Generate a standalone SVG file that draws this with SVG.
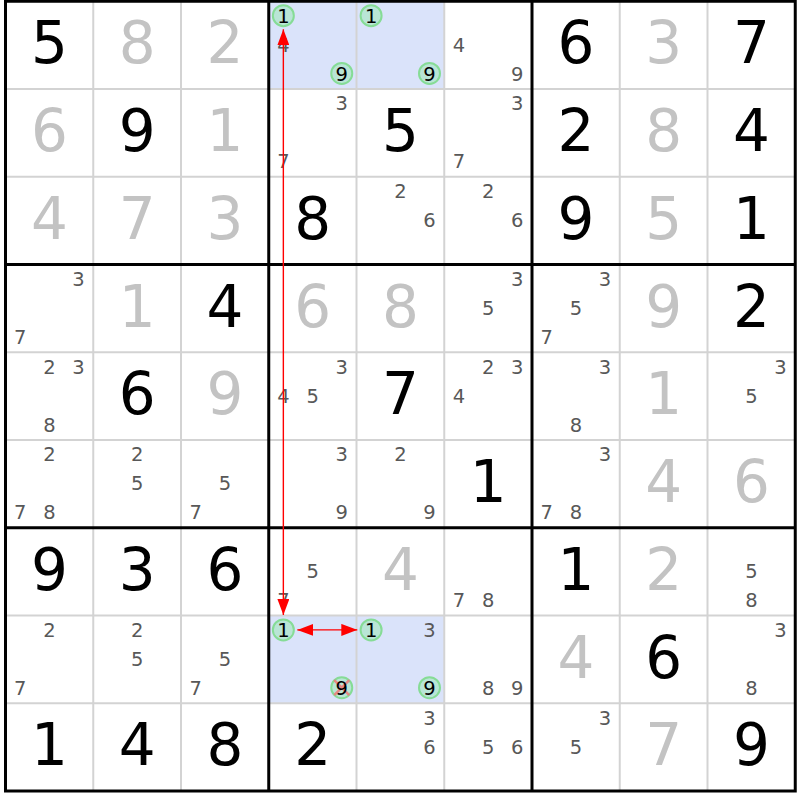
<svg xmlns="http://www.w3.org/2000/svg" width="800" height="800" viewBox="0 0 800 800">
<style>
text{font-family:"DejaVu Sans","Liberation Sans",sans-serif;text-anchor:middle}
.g{font-size:58px;fill:#000}
.s{font-size:58px;fill:#c3c3c3}
.c{font-size:19.5px;fill:#585858}
.cc{font-size:19.5px;fill:#000}
.hl{fill:#dae3fa}
.ring{fill:#b9e5d6;stroke:#86dc96;stroke-width:2}
.thin{stroke:#d3d3d3;stroke-width:2;fill:none}
.thick{stroke:#000;stroke-width:3;fill:none}
.arrow{stroke:#f00;stroke-width:1.4;fill:none}
.x{stroke:#f07878;stroke-width:2.5;opacity:0.85}
</style>
<defs>
<marker id="ah" markerUnits="userSpaceOnUse" markerWidth="16" markerHeight="12" refX="16" refY="6" orient="auto-start-reverse" viewBox="0 0 16 12">
<path d="M0,0 L16,6 L0,12 Z" fill="#f00"/>
</marker>
</defs>
<rect x="0" y="0" width="800" height="800" fill="#fff"/>

<g id="cells">
<!-- Row 0 -->
<g id="r0c0" transform="translate(5.5,1.25)"><text class="g" x="43.9" y="62">5</text></g>
<g id="r0c1" transform="translate(93.25,1.25)"><text class="s" x="43.9" y="62">8</text></g>
<g id="r0c2" transform="translate(181,1.25)"><text class="s" x="43.9" y="62">2</text></g>
<g id="r0c3" transform="translate(268.75,1.25)"><rect class="hl" width="87.75" height="87.75"/><circle class="ring" cx="14.6" cy="14.4" r="10.5"/><text class="cc" x="14.6" y="21.3">1</text><text class="c" x="14.6" y="50.3">4</text><circle class="ring" cx="73" cy="72.2" r="10.5"/><text class="cc" x="73" y="79.3">9</text></g>
<g id="r0c4" transform="translate(356.5,1.25)"><rect class="hl" width="87.75" height="87.75"/><circle class="ring" cx="14.6" cy="14.4" r="10.5"/><text class="cc" x="14.6" y="21.3">1</text><circle class="ring" cx="73" cy="72.2" r="10.5"/><text class="cc" x="73" y="79.3">9</text></g>
<g id="r0c5" transform="translate(444.25,1.25)"><text class="c" x="14.6" y="50.3">4</text><text class="c" x="73" y="79.3">9</text></g>
<g id="r0c6" transform="translate(532,1.25)"><text class="g" x="43.9" y="62">6</text></g>
<g id="r0c7" transform="translate(619.75,1.25)"><text class="s" x="43.9" y="62">3</text></g>
<g id="r0c8" transform="translate(707.5,1.25)"><text class="g" x="43.9" y="62">7</text></g>
<!-- Row 1 -->
<g id="r1c0" transform="translate(5.5,89)"><text class="s" x="43.9" y="62">6</text></g>
<g id="r1c1" transform="translate(93.25,89)"><text class="g" x="43.9" y="62">9</text></g>
<g id="r1c2" transform="translate(181,89)"><text class="s" x="43.9" y="62">1</text></g>
<g id="r1c3" transform="translate(268.75,89)"><text class="c" x="73" y="21.3">3</text><text class="c" x="14.6" y="79.3">7</text></g>
<g id="r1c4" transform="translate(356.5,89)"><text class="g" x="43.9" y="62">5</text></g>
<g id="r1c5" transform="translate(444.25,89)"><text class="c" x="73" y="21.3">3</text><text class="c" x="14.6" y="79.3">7</text></g>
<g id="r1c6" transform="translate(532,89)"><text class="g" x="43.9" y="62">2</text></g>
<g id="r1c7" transform="translate(619.75,89)"><text class="s" x="43.9" y="62">8</text></g>
<g id="r1c8" transform="translate(707.5,89)"><text class="g" x="43.9" y="62">4</text></g>
<!-- Row 2 -->
<g id="r2c0" transform="translate(5.5,176.75)"><text class="s" x="43.9" y="62">4</text></g>
<g id="r2c1" transform="translate(93.25,176.75)"><text class="s" x="43.9" y="62">7</text></g>
<g id="r2c2" transform="translate(181,176.75)"><text class="s" x="43.9" y="62">3</text></g>
<g id="r2c3" transform="translate(268.75,176.75)"><text class="g" x="43.9" y="62">8</text></g>
<g id="r2c4" transform="translate(356.5,176.75)"><text class="c" x="43.9" y="21.3">2</text><text class="c" x="73" y="50.3">6</text></g>
<g id="r2c5" transform="translate(444.25,176.75)"><text class="c" x="43.9" y="21.3">2</text><text class="c" x="73" y="50.3">6</text></g>
<g id="r2c6" transform="translate(532,176.75)"><text class="g" x="43.9" y="62">9</text></g>
<g id="r2c7" transform="translate(619.75,176.75)"><text class="s" x="43.9" y="62">5</text></g>
<g id="r2c8" transform="translate(707.5,176.75)"><text class="g" x="43.9" y="62">1</text></g>
<!-- Row 3 -->
<g id="r3c0" transform="translate(5.5,264.5)"><text class="c" x="73" y="21.3">3</text><text class="c" x="14.6" y="79.3">7</text></g>
<g id="r3c1" transform="translate(93.25,264.5)"><text class="s" x="43.9" y="62">1</text></g>
<g id="r3c2" transform="translate(181,264.5)"><text class="g" x="43.9" y="62">4</text></g>
<g id="r3c3" transform="translate(268.75,264.5)"><text class="s" x="43.9" y="62">6</text></g>
<g id="r3c4" transform="translate(356.5,264.5)"><text class="s" x="43.9" y="62">8</text></g>
<g id="r3c5" transform="translate(444.25,264.5)"><text class="c" x="73" y="21.3">3</text><text class="c" x="43.9" y="50.3">5</text></g>
<g id="r3c6" transform="translate(532,264.5)"><text class="c" x="73" y="21.3">3</text><text class="c" x="43.9" y="50.3">5</text><text class="c" x="14.6" y="79.3">7</text></g>
<g id="r3c7" transform="translate(619.75,264.5)"><text class="s" x="43.9" y="62">9</text></g>
<g id="r3c8" transform="translate(707.5,264.5)"><text class="g" x="43.9" y="62">2</text></g>
<!-- Row 4 -->
<g id="r4c0" transform="translate(5.5,352.25)"><text class="c" x="43.9" y="21.3">2</text><text class="c" x="73" y="21.3">3</text><text class="c" x="43.9" y="79.3">8</text></g>
<g id="r4c1" transform="translate(93.25,352.25)"><text class="g" x="43.9" y="62">6</text></g>
<g id="r4c2" transform="translate(181,352.25)"><text class="s" x="43.9" y="62">9</text></g>
<g id="r4c3" transform="translate(268.75,352.25)"><text class="c" x="73" y="21.3">3</text><text class="c" x="14.6" y="50.3">4</text><text class="c" x="43.9" y="50.3">5</text></g>
<g id="r4c4" transform="translate(356.5,352.25)"><text class="g" x="43.9" y="62">7</text></g>
<g id="r4c5" transform="translate(444.25,352.25)"><text class="c" x="43.9" y="21.3">2</text><text class="c" x="73" y="21.3">3</text><text class="c" x="14.6" y="50.3">4</text></g>
<g id="r4c6" transform="translate(532,352.25)"><text class="c" x="73" y="21.3">3</text><text class="c" x="43.9" y="79.3">8</text></g>
<g id="r4c7" transform="translate(619.75,352.25)"><text class="s" x="43.9" y="62">1</text></g>
<g id="r4c8" transform="translate(707.5,352.25)"><text class="c" x="73" y="21.3">3</text><text class="c" x="43.9" y="50.3">5</text></g>
<!-- Row 5 -->
<g id="r5c0" transform="translate(5.5,440)"><text class="c" x="43.9" y="21.3">2</text><text class="c" x="14.6" y="79.3">7</text><text class="c" x="43.9" y="79.3">8</text></g>
<g id="r5c1" transform="translate(93.25,440)"><text class="c" x="43.9" y="21.3">2</text><text class="c" x="43.9" y="50.3">5</text></g>
<g id="r5c2" transform="translate(181,440)"><text class="c" x="43.9" y="50.3">5</text><text class="c" x="14.6" y="79.3">7</text></g>
<g id="r5c3" transform="translate(268.75,440)"><text class="c" x="73" y="21.3">3</text><text class="c" x="73" y="79.3">9</text></g>
<g id="r5c4" transform="translate(356.5,440)"><text class="c" x="43.9" y="21.3">2</text><text class="c" x="73" y="79.3">9</text></g>
<g id="r5c5" transform="translate(444.25,440)"><text class="g" x="43.9" y="62">1</text></g>
<g id="r5c6" transform="translate(532,440)"><text class="c" x="73" y="21.3">3</text><text class="c" x="14.6" y="79.3">7</text><text class="c" x="43.9" y="79.3">8</text></g>
<g id="r5c7" transform="translate(619.75,440)"><text class="s" x="43.9" y="62">4</text></g>
<g id="r5c8" transform="translate(707.5,440)"><text class="s" x="43.9" y="62">6</text></g>
<!-- Row 6 -->
<g id="r6c0" transform="translate(5.5,527.75)"><text class="g" x="43.9" y="62">9</text></g>
<g id="r6c1" transform="translate(93.25,527.75)"><text class="g" x="43.9" y="62">3</text></g>
<g id="r6c2" transform="translate(181,527.75)"><text class="g" x="43.9" y="62">6</text></g>
<g id="r6c3" transform="translate(268.75,527.75)"><text class="c" x="43.9" y="50.3">5</text><text class="c" x="14.6" y="79.3">7</text></g>
<g id="r6c4" transform="translate(356.5,527.75)"><text class="s" x="43.9" y="62">4</text></g>
<g id="r6c5" transform="translate(444.25,527.75)"><text class="c" x="14.6" y="79.3">7</text><text class="c" x="43.9" y="79.3">8</text></g>
<g id="r6c6" transform="translate(532,527.75)"><text class="g" x="43.9" y="62">1</text></g>
<g id="r6c7" transform="translate(619.75,527.75)"><text class="s" x="43.9" y="62">2</text></g>
<g id="r6c8" transform="translate(707.5,527.75)"><text class="c" x="43.9" y="50.3">5</text><text class="c" x="43.9" y="79.3">8</text></g>
<!-- Row 7 -->
<g id="r7c0" transform="translate(5.5,615.5)"><text class="c" x="43.9" y="21.3">2</text><text class="c" x="14.6" y="79.3">7</text></g>
<g id="r7c1" transform="translate(93.25,615.5)"><text class="c" x="43.9" y="21.3">2</text><text class="c" x="43.9" y="50.3">5</text></g>
<g id="r7c2" transform="translate(181,615.5)"><text class="c" x="43.9" y="50.3">5</text><text class="c" x="14.6" y="79.3">7</text></g>
<g id="r7c3" transform="translate(268.75,615.5)"><rect class="hl" width="87.75" height="87.75"/><circle class="ring" cx="14.6" cy="14.4" r="10.5"/><text class="cc" x="14.6" y="21.3">1</text><circle class="ring" cx="73" cy="72.2" r="10.5"/><path class="x" d="M65.5,64.7 L80.5,79.7 M80.5,64.7 L65.5,79.7"/><text class="cc" x="73" y="79.3">9</text></g>
<g id="r7c4" transform="translate(356.5,615.5)"><rect class="hl" width="87.75" height="87.75"/><circle class="ring" cx="14.6" cy="14.4" r="10.5"/><text class="cc" x="14.6" y="21.3">1</text><text class="c" x="73" y="21.3">3</text><circle class="ring" cx="73" cy="72.2" r="10.5"/><text class="cc" x="73" y="79.3">9</text></g>
<g id="r7c5" transform="translate(444.25,615.5)"><text class="c" x="43.9" y="79.3">8</text><text class="c" x="73" y="79.3">9</text></g>
<g id="r7c6" transform="translate(532,615.5)"><text class="s" x="43.9" y="62">4</text></g>
<g id="r7c7" transform="translate(619.75,615.5)"><text class="g" x="43.9" y="62">6</text></g>
<g id="r7c8" transform="translate(707.5,615.5)"><text class="c" x="73" y="21.3">3</text><text class="c" x="43.9" y="79.3">8</text></g>
<!-- Row 8 -->
<g id="r8c0" transform="translate(5.5,703.25)"><text class="g" x="43.9" y="62">1</text></g>
<g id="r8c1" transform="translate(93.25,703.25)"><text class="g" x="43.9" y="62">4</text></g>
<g id="r8c2" transform="translate(181,703.25)"><text class="g" x="43.9" y="62">8</text></g>
<g id="r8c3" transform="translate(268.75,703.25)"><text class="g" x="43.9" y="62">2</text></g>
<g id="r8c4" transform="translate(356.5,703.25)"><text class="c" x="73" y="21.3">3</text><text class="c" x="73" y="50.3">6</text></g>
<g id="r8c5" transform="translate(444.25,703.25)"><text class="c" x="43.9" y="50.3">5</text><text class="c" x="73" y="50.3">6</text></g>
<g id="r8c6" transform="translate(532,703.25)"><text class="c" x="73" y="21.3">3</text><text class="c" x="43.9" y="50.3">5</text></g>
<g id="r8c7" transform="translate(619.75,703.25)"><text class="s" x="43.9" y="62">7</text></g>
<g id="r8c8" transform="translate(707.5,703.25)"><text class="g" x="43.9" y="62">9</text></g>
</g>

<g id="grid">
<path class="thin" d="M93.25,1.25V791 M181,1.25V791 M356.5,1.25V791 M444.25,1.25V791 M619.75,1.25V791 M707.5,1.25V791 M5.5,89H795.25 M5.5,176.75H795.25 M5.5,352.25H795.25 M5.5,440H795.25 M5.5,615.5H795.25 M5.5,703.25H795.25"/>
<path class="thick" d="M268.75,1.25V791 M532,1.25V791 M5.5,264.5H795.25 M5.5,527.75H795.25"/>
<rect class="thick" x="5.5" y="1.25" width="789.75" height="789.75" stroke-width="3.5"/>
</g>

<g id="connectors">
<line class="arrow" x1="283.35" y1="29.3" x2="283.35" y2="615" marker-start="url(#ah)" marker-end="url(#ah)"/>
<line class="arrow" x1="297.3" y1="629.9" x2="357.3" y2="629.9" marker-start="url(#ah)" marker-end="url(#ah)"/>
</g>
</svg>
